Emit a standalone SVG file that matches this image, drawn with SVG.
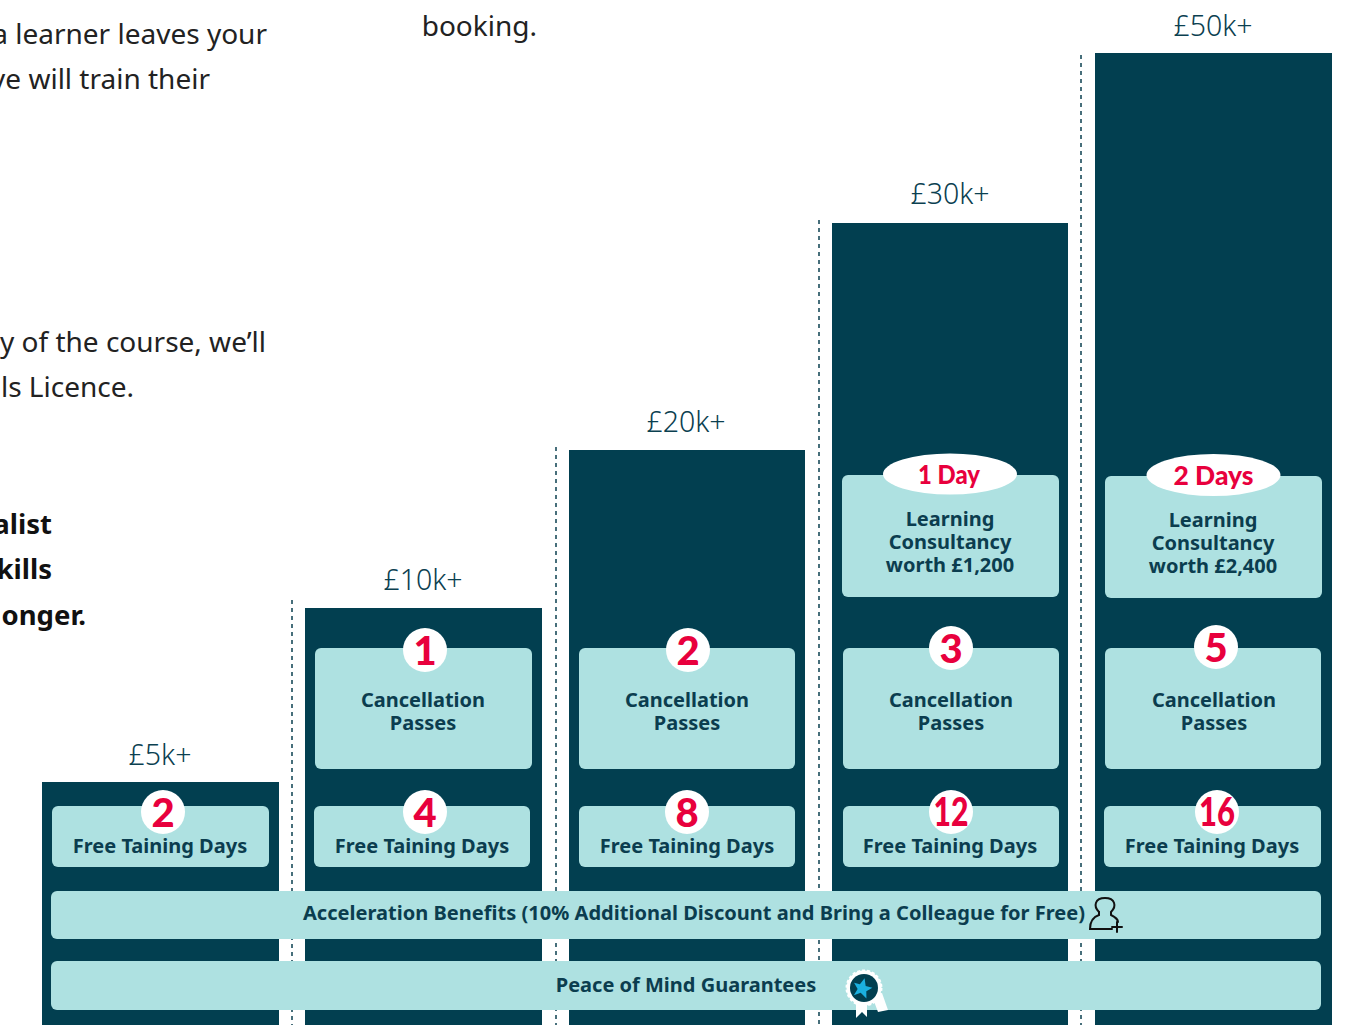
<svg xmlns="http://www.w3.org/2000/svg" width="1362" height="1025" viewBox="0 0 1362 1025">
<style>
.col{fill:#023f50}
.box{fill:#aee1e1}
.dot{stroke:#0b4050;stroke-width:1.5;stroke-dasharray:4 4;fill:none}
.tier{font-family:"Noto Sans",sans-serif;font-size:28.5px;font-weight:300;fill:#0b4050;text-anchor:middle}
.lbl{font-family:"Noto Sans",sans-serif;font-size:20px;font-weight:700;fill:#0b3d4f;text-anchor:middle}
.num{font-family:"Lato","Noto Sans",sans-serif;font-size:40px;font-weight:900;fill:#e8003d;text-anchor:middle}
.day{font-family:"Lato","Noto Sans",sans-serif;font-size:27px;font-weight:900;fill:#e8003d;text-anchor:middle}
.body{font-family:"Noto Sans",sans-serif;font-size:28px;font-weight:400;fill:#222;text-anchor:end}
.bold{font-family:"Noto Sans",sans-serif;font-size:27.5px;font-weight:700;fill:#111;text-anchor:end}
.circ{fill:#fff}
</style>
<rect width="1362" height="1025" fill="#fff"/>
<g id="intro-text">
<text class="body" x="267" y="44">a learner leaves your</text>
<text class="body" x="210" y="89">ve will train their</text>
<text class="body" x="537" y="36">booking.</text>
<text class="body" x="266" y="352">y of the course, we’ll</text>
<text class="body" x="134" y="397">ls Licence.</text>
<text class="bold" x="52" y="534">alist</text>
<text class="bold" x="52" y="579">kills</text>
<text class="bold" x="86" y="625">onger.</text>
</g>
<g id="connectors">
<line class="dot" x1="292" y1="600" x2="292" y2="1025"/>
<line class="dot" x1="556" y1="447" x2="556" y2="1025"/>
<line class="dot" x1="819" y1="220" x2="819" y2="1025"/>
<line class="dot" x1="1081" y1="55" x2="1081" y2="1025"/>
</g>
<g id="tier-5k">
<text class="tier" x="160" y="765">£5k+</text>
<rect class="col" x="42" y="782" width="237" height="243"/>
<rect class="box" x="52" y="806" width="217" height="61" rx="6"/>
<circle class="circ" cx="163" cy="812" r="22"/>
<text class="num" x="163" y="827">2</text>
<text class="lbl" x="160" y="853">Free Taining Days</text>
</g>
<g id="tier-10k">
<text class="tier" x="423" y="590">£10k+</text>
<rect class="col" x="305" y="608" width="237" height="417"/>
<rect class="box" x="315" y="648" width="217" height="121" rx="6"/>
<circle class="circ" cx="425" cy="650" r="22"/>
<text class="num" x="425" y="665">1</text>
<text class="lbl" x="423" y="707">Cancellation</text>
<text class="lbl" x="423" y="730">Passes</text>
<rect class="box" x="314" y="806" width="216" height="61" rx="6"/>
<circle class="circ" cx="425" cy="812" r="22"/>
<text class="num" x="425" y="827">4</text>
<text class="lbl" x="422" y="853">Free Taining Days</text>
</g>
<g id="tier-20k">
<text class="tier" x="686" y="432">£20k+</text>
<rect class="col" x="569" y="450" width="236" height="575"/>
<rect class="box" x="579" y="648" width="216" height="121" rx="6"/>
<circle class="circ" cx="688" cy="650" r="22"/>
<text class="num" x="688" y="665">2</text>
<text class="lbl" x="687" y="707">Cancellation</text>
<text class="lbl" x="687" y="730">Passes</text>
<rect class="box" x="579" y="806" width="216" height="61" rx="6"/>
<circle class="circ" cx="687" cy="812" r="22"/>
<text class="num" x="687" y="827">8</text>
<text class="lbl" x="687" y="853">Free Taining Days</text>
</g>
<g id="tier-30k">
<text class="tier" x="950" y="204">£30k+</text>
<rect class="col" x="832" y="223" width="236" height="802"/>
<rect class="box" x="842" y="475" width="217" height="122" rx="6"/>
<ellipse class="circ" cx="950" cy="474" rx="67" ry="20.5"/>
<text class="day" x="949" y="484" textLength="62" lengthAdjust="spacingAndGlyphs">1 Day</text>
<text class="lbl" x="950" y="526">Learning</text>
<text class="lbl" x="950" y="549">Consultancy</text>
<text class="lbl" x="950" y="572">worth £1,200</text>
<rect class="box" x="843" y="648" width="216" height="121" rx="6"/>
<circle class="circ" cx="951" cy="648" r="22"/>
<text class="num" x="951" y="663">3</text>
<text class="lbl" x="951" y="707">Cancellation</text>
<text class="lbl" x="951" y="730">Passes</text>
<rect class="box" x="843" y="806" width="216" height="61" rx="6"/>
<circle class="circ" cx="951" cy="812" r="22"/>
<text class="num" x="951" y="826" font-size="36" textLength="35" lengthAdjust="spacingAndGlyphs">12</text>
<text class="lbl" x="950" y="853">Free Taining Days</text>
</g>
<g id="tier-50k">
<text class="tier" x="1213" y="36">£50k+</text>
<rect class="col" x="1095" y="53" width="237" height="972"/>
<rect class="box" x="1105" y="476" width="217" height="122" rx="6"/>
<ellipse class="circ" cx="1213.5" cy="475" rx="67" ry="21"/>
<text class="day" x="1213.5" y="485" textLength="80" lengthAdjust="spacingAndGlyphs">2 Days</text>
<text class="lbl" x="1213" y="527">Learning</text>
<text class="lbl" x="1213" y="550">Consultancy</text>
<text class="lbl" x="1213" y="573">worth £2,400</text>
<rect class="box" x="1105" y="648" width="216" height="121" rx="6"/>
<circle class="circ" cx="1216" cy="647" r="22"/>
<text class="num" x="1216" y="662">5</text>
<text class="lbl" x="1214" y="707">Cancellation</text>
<text class="lbl" x="1214" y="730">Passes</text>
<rect class="box" x="1104" y="806" width="217" height="61" rx="6"/>
<circle class="circ" cx="1217" cy="812" r="22"/>
<text class="num" x="1217" y="826" font-size="36" textLength="36" lengthAdjust="spacingAndGlyphs">16</text>
<text class="lbl" x="1212" y="853">Free Taining Days</text>
</g>
<g id="acceleration">
<rect class="box" x="51" y="891" width="1270" height="48" rx="6"/>
<text class="lbl" x="694" y="920" textLength="782" lengthAdjust="spacingAndGlyphs">Acceleration Benefits (10% Additional Discount and Bring a Colleague for Free)</text>
<g fill="none" stroke="#111" stroke-width="2" stroke-linecap="round">
<path d="M1099,912 C1093,906 1095,898 1105,898 C1115,898 1117,906 1111,912 L1111,915 C1115,917 1118,920 1118,922"/>
<path d="M1099,912 L1099,915 C1093,917 1090,922 1090,929 L1112,929"/>
<path d="M1117,922 L1117,932 M1112,927 L1122,927"/>
</g>
</g>
<g id="peace-of-mind">
<rect class="box" x="51" y="961" width="1270" height="49" rx="6"/>
<text class="lbl" x="686" y="992">Peace of Mind Guarantees</text>
<polygon points="856,998 856,1018 862,1012 867,1017 867,998" fill="#fff"/>
<polygon points="872,996 878,1012 888,1010 882,993" fill="#fff"/>
<circle cx="864" cy="988" r="17.5" fill="#fff" stroke="#fff" stroke-width="2" stroke-dasharray="3 2"/>
<circle cx="864" cy="988" r="14" fill="#023f50"/>
<polygon points="862,978 865,985 872,985 867,990 869,997 862,993 856,997 858,990 853,985 859,985" fill="#1bb0e0" transform="rotate(15 862 988)"/>
</g>
</svg>
